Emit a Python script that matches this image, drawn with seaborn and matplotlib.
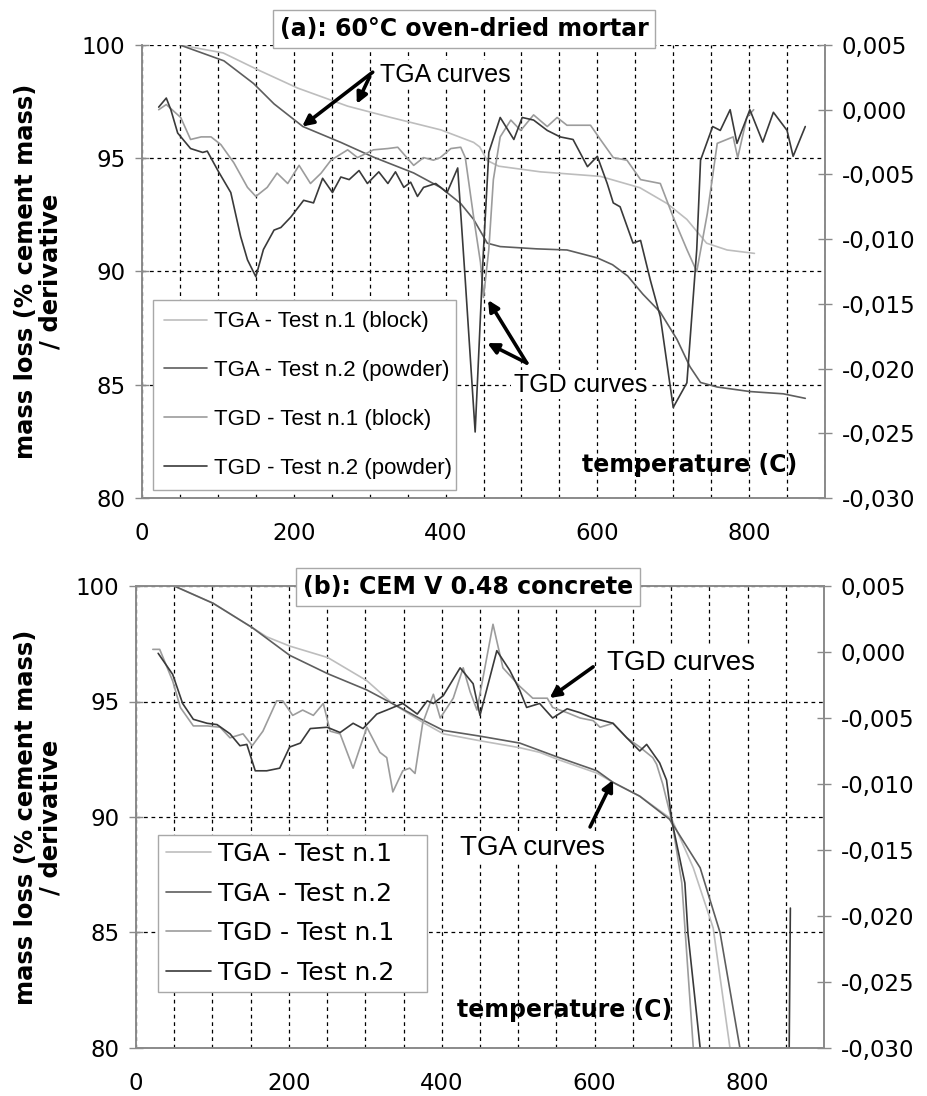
import matplotlib
matplotlib.use("Agg")
import matplotlib.pyplot as plt
import seaborn as sns
from matplotlib.ticker import FixedLocator, FuncFormatter, MultipleLocator

# ---------------- data ----------------
temp_ticks = [0, 200, 400, 600, 800]
left_ticks = [80, 85, 90, 95, 100]
right_ticks = [-0.030, -0.025, -0.020, -0.015, -0.010, -0.005, 0.000, 0.005]

a_title = "(a): 60°C oven-dried mortar"
b_title = "(b): CEM V 0.48 concrete"
a_labels = ["TGA - Test n.1 (block)", "TGA - Test n.2 (powder)",
            "TGD - Test n.1 (block)", "TGD - Test n.2 (powder)"]
b_labels = ["TGA - Test n.1", "TGA - Test n.2", "TGD - Test n.1", "TGD - Test n.2"]

# (a) mortar: TGA (left axis, % mass) and TGD (right axis, derivative)
a_tga1_t = [50, 107, 153, 205, 271, 328, 394, 437, 445, 455, 470, 525, 604, 656, 692,
            718, 744, 771, 807]
a_tga1_m = [100.0, 99.65, 98.9, 98.1, 97.3, 96.8, 96.25, 95.7, 95.5, 94.9, 94.65, 94.4,
            94.2, 93.7, 93.0, 92.3, 91.25, 90.95, 90.8]
a_tga2_t = [50, 108, 147, 174, 212, 262, 305, 358, 394, 420, 437, 455, 472, 520, 560,
            600, 620, 640, 660, 683, 705, 722, 736, 758, 801, 845, 874]
a_tga2_m = [100.0, 99.3, 98.3, 97.4, 96.4, 95.7, 95.05, 94.35, 93.7, 93.0, 92.3, 91.25,
            91.1, 91.0, 90.95, 90.6, 90.3, 89.8, 89.0, 88.2, 87.0, 85.8, 85.1, 84.9, 84.7,
            84.6, 84.4]
a_tgd1_t = [22, 32, 51, 64, 78, 91, 104, 121, 139, 150,
            165, 178, 192, 207, 222, 236, 249, 271, 284, 305,
            324, 337, 358, 371, 384, 393, 407, 420, 426, 437,
            446, 450, 457, 463, 472, 486, 499, 516, 534, 547,
            560, 591, 604, 621, 639, 657, 683, 700, 718, 731,
            745, 758, 779, 785, 797, 806]
a_tgd1_d = [0.0000, 0.0004, -0.0006, -0.0023, -0.0021, -0.0021, -0.0027, -0.0041, -0.0060, -0.0067,
            -0.0060, -0.0049, -0.0057, -0.0043, -0.0057, -0.0049, -0.0039, -0.0031, -0.0037, -0.0031,
            -0.0030, -0.0029, -0.0043, -0.0037, -0.0039, -0.0037, -0.0030, -0.0029, -0.0037, -0.0083,
            -0.0118, -0.0145, -0.0108, -0.0054, -0.0021, -0.0008, -0.0016, -0.0004, -0.0013, -0.0006,
            -0.0012, -0.0012, -0.0023, -0.0037, -0.0039, -0.0054, -0.0057, -0.0083, -0.0108, -0.0125,
            -0.0080, -0.0026, -0.0021, -0.0037, -0.0006, 0.0000]
a_tgd2_t = [22, 32, 38, 47, 64, 80, 86, 100, 117, 130,
            139, 150, 160, 174, 183, 196, 213, 226, 238, 251,
            262, 273, 286, 297, 312, 324, 334, 345, 354, 363,
            371, 387, 402, 416, 426, 439, 450, 457, 472, 490,
            501, 516, 534, 551, 568, 587, 600, 613, 621, 630,
            647, 657, 670, 683, 700, 718, 731, 736, 752, 762,
            775, 784, 801, 818, 832, 850, 858, 874]
a_tgd2_d = [0.0002, 0.0009, 0.0000, -0.0018, -0.0030, -0.0033, -0.0032, -0.0047, -0.0064, -0.0098,
            -0.0116, -0.0129, -0.0108, -0.0093, -0.0091, -0.0083, -0.0070, -0.0072, -0.0053, -0.0064,
            -0.0052, -0.0054, -0.0047, -0.0057, -0.0048, -0.0057, -0.0048, -0.0060, -0.0056, -0.0067,
            -0.0060, -0.0057, -0.0064, -0.0045, -0.0132, -0.0249, -0.0108, -0.0033, -0.0006, -0.0023,
            -0.0006, -0.0008, -0.0016, -0.0021, -0.0023, -0.0044, -0.0036, -0.0057, -0.0072, -0.0075,
            -0.0103, -0.0101, -0.0132, -0.0160, -0.0230, -0.0211, -0.0108, -0.0039, -0.0013, -0.0016,
            0.0000, -0.0026, 0.0000, -0.0025, -0.0002, -0.0016, -0.0036, -0.0013]

# (b) concrete
b_tga1_t = [50, 101, 152, 171, 201, 251, 302, 336, 375, 402, 450, 502, 528, 551, 603,
            624, 659, 701, 729, 755, 777, 785]
b_tga1_m = [100.0, 99.25, 98.2, 97.8, 97.4, 96.9, 95.9, 94.9, 94.1, 93.6, 93.3, 93.0,
            92.8, 92.5, 91.9, 91.5, 90.9, 89.9, 87.8, 85.2, 80.0, 78.0]
b_tga2_t = [50, 101, 152, 201, 251, 302, 336, 375, 402, 450, 502, 551, 603, 624, 659,
            698, 738, 764, 790, 800]
b_tga2_m = [100.0, 99.25, 98.2, 97.0, 96.2, 95.5, 94.9, 94.2, 93.75, 93.5, 93.2, 92.6,
            92.0, 91.5, 90.9, 89.9, 87.8, 85.0, 80.0, 78.0]
b_tgd1_t = [22, 31, 48, 58, 75, 93, 110, 123, 140, 152,
            166, 184, 192, 205, 218, 232, 245, 254, 267, 284,
            302, 319, 328, 336, 349, 358, 365, 375, 389, 398,
            415, 428, 437, 446, 467, 480, 502, 519, 538, 545,
            564, 581, 598, 607, 624, 642, 659, 676, 681, 689,
            701, 714, 729, 735]
b_tgd1_d = [0.0002, 0.0002, -0.0022, -0.0042, -0.0056, -0.0056, -0.0057, -0.0065, -0.0062, -0.0071,
            -0.0060, -0.0037, -0.0037, -0.0048, -0.0044, -0.0048, -0.0039, -0.0060, -0.0062, -0.0088,
            -0.0057, -0.0076, -0.0080, -0.0106, -0.0090, -0.0088, -0.0092, -0.0054, -0.0032, -0.0050,
            -0.0035, -0.0012, -0.0030, -0.0044, 0.0021, -0.0012, -0.0026, -0.0035, -0.0035, -0.0042,
            -0.0046, -0.0050, -0.0052, -0.0057, -0.0054, -0.0065, -0.0072, -0.0080, -0.0085, -0.0100,
            -0.0128, -0.0175, -0.0300, -0.0340]
b_tgd2_t = [29, 48, 61, 75, 93, 106, 123, 136, 145, 156,
            171, 188, 201, 215, 228, 250, 267, 284, 297, 315,
            328, 349, 368, 381, 389, 402, 424, 441, 450, 472,
            489, 502, 511, 528, 545, 564, 581, 598, 624, 642,
            659, 668, 685, 694, 701, 718, 722, 738, 745, 853,
            856]
b_tgd2_d = [-0.0001, -0.0017, -0.0039, -0.0051, -0.0054, -0.0055, -0.0062, -0.0071, -0.0070, -0.0090,
            -0.0090, -0.0088, -0.0072, -0.0069, -0.0058, -0.0057, -0.0061, -0.0054, -0.0058, -0.0047,
            -0.0044, -0.0039, -0.0047, -0.0037, -0.0039, -0.0033, -0.0012, -0.0024, -0.0048, 0.0001,
            -0.0014, -0.0029, -0.0042, -0.0039, -0.0050, -0.0043, -0.0046, -0.0050, -0.0054, -0.0065,
            -0.0075, -0.0070, -0.0084, -0.0097, -0.0128, -0.0175, -0.0213, -0.0300, -0.0400, -0.0400,
            -0.0194]

# ---------------- style ----------------
sns.set_style("white")
plt.rcParams["font.family"] = ["DejaVu Sans"]
plt.rcParams["axes.unicode_minus"] = False
plt.rcParams["text.color"] = "black"
plt.rcParams["xtick.labelcolor"] = "black"
plt.rcParams["ytick.labelcolor"] = "black"

C_TGA1, C_TGA2, C_TGD1, C_TGD2 = "#bdbdbd", "#5e5e5e", "#9c9c9c", "#3a3a3a"
SPINE = "#8a8a8a"
GRID = dict(color="black", linestyle=(0, (3, 3)), linewidth=0.9)
TICK_FS = 16.5

fig = plt.figure(figsize=(9.27, 10.96), dpi=100)
W, H = 927, 1096


def make_axes(px_left, px_right, px_top, px_bottom):
    return fig.add_axes([px_left / W, 1 - px_bottom / H,
                         (px_right - px_left) / W, (px_bottom - px_top) / H])


def panel(ax, tga1, tga2, tgd1, tgd2, top_spine):
    ax.set_xlim(0, 900)
    ax.set_ylim(80, 100)
    ax2 = ax.twinx()
    ax2.set_ylim(-0.030, 0.005)
    handles = []
    for (t, v), c, a in [(tga1, C_TGA1, ax), (tga2, C_TGA2, ax),
                         (tgd1, C_TGD1, ax2), (tgd2, C_TGD2, ax2)]:
        sns.lineplot(x=t, y=v, ax=a, color=c, linewidth=1.2,
                     estimator=None, sort=False, legend=False)
        handles.append(a.lines[-1])
    ax.set_xlim(0, 900)
    ax.set_ylim(80, 100)
    ax2.set_ylim(-0.030, 0.005)
    for a in (ax, ax2):
        a.set_xlabel("")
        a.set_ylabel("")
        for s in a.spines.values():
            s.set_color(SPINE)
            s.set_linewidth(1.2)
        a.spines["top"].set_visible(top_spine)
    ax.xaxis.set_major_locator(FixedLocator(temp_ticks))
    ax.xaxis.set_minor_locator(MultipleLocator(50))
    ax.yaxis.set_major_locator(FixedLocator(left_ticks))
    ax.set_axisbelow(True)
    ax.grid(True, which="both", axis="x", **GRID)
    ax.grid(True, which="major", axis="y", **GRID)
    ax.tick_params(axis="both", which="major", direction="inout", length=10, width=1,
                   color=SPINE, labelcolor="black", labelsize=TICK_FS, pad=7)
    ax.tick_params(axis="x", which="minor", length=0)
    ax.tick_params(axis="x", which="major", pad=12)
    ax2.yaxis.set_major_locator(FixedLocator(right_ticks))
    ax2.yaxis.set_major_formatter(
        FuncFormatter(lambda v, p: f"{v:.3f}".replace(".", ",")))
    ax2.tick_params(axis="y", direction="inout", length=10, width=1, color=SPINE,
                    labelcolor="black", labelsize=TICK_FS, pad=7)
    return ax2, handles


arrow = dict(arrowstyle="-|>", color="black", lw=2.6, mutation_scale=16,
             shrinkA=0, shrinkB=0)
txt_box = dict(boxstyle="square,pad=0.1", fc="white", ec="none")

# ---------------- panel (a) ----------------
ax_a = make_axes(142, 825, 45, 498)
ax2_a, h_a = panel(ax_a, (a_tga1_t, a_tga1_m), (a_tga2_t, a_tga2_m),
                   (a_tgd1_t, a_tgd1_d), (a_tgd2_t, a_tgd2_d), top_spine=False)
ax_a.axvline(900, **GRID)

leg = ax2_a.legend(h_a, a_labels, loc="lower left", bbox_to_anchor=(0.016, 0.018, 0.444, 0.43),
                   mode="expand", borderaxespad=0, fancybox=False, framealpha=1,
                   edgecolor="#a8a8a8", prop=dict(family="Liberation Sans", size=16),
                   labelspacing=1.25, borderpad=0.5, handlelength=1.95, handletextpad=0.3)
for t in leg.get_texts():
    t.set_color("black")

ax2_a.annotate("", xy=(211, 96.4), xytext=(304, 98.8), xycoords=ax_a.transData,
               arrowprops=arrow)
ax2_a.annotate("", xy=(283, 97.4), xytext=(300, 98.6), xycoords=ax_a.transData,
               arrowprops=arrow)
ax2_a.text(313, 98.68, "TGA curves", transform=ax_a.transData, ha="left", va="center",
           family="Liberation Sans", fontsize=18, bbox=txt_box, zorder=5)
ax2_a.annotate("", xy=(456, 88.74), xytext=(507, 85.96), xycoords=ax_a.transData,
               arrowprops=arrow)
ax2_a.annotate("", xy=(455, 86.84), xytext=(507, 85.96), xycoords=ax_a.transData,
               arrowprops=arrow)
ax2_a.text(490, 85.0, "TGD curves", transform=ax_a.transData, ha="left", va="center",
           family="Liberation Sans", fontsize=18, bbox=txt_box, zorder=5)
ax2_a.text(0.959, 0.073, "temperature (C)", transform=ax_a.transAxes, ha="right",
           va="center", fontsize=17, fontweight="bold")

# ---------------- panel (b) ----------------
ax_b = make_axes(136, 824, 586, 1048)
ax2_b, h_b = panel(ax_b, (b_tga1_t, b_tga1_m), (b_tga2_t, b_tga2_m),
                   (b_tgd1_t, b_tgd1_d), (b_tgd2_t, b_tgd2_d), top_spine=True)

leg = ax2_b.legend(h_b, b_labels, loc="lower left", bbox_to_anchor=(0.032, 0.121, 0.391, 0.35),
                   mode="expand", borderaxespad=0, fancybox=False, framealpha=1,
                   edgecolor="#a8a8a8", prop=dict(family="DejaVu Sans", size=18),
                   labelspacing=0.62, borderpad=0.3, handlelength=1.8, handletextpad=0.3)
for t in leg.get_texts():
    t.set_color("black")

ax2_b.annotate("", xy=(541, 95.15), xytext=(598, 96.5), xycoords=ax_b.transData,
               arrowprops=arrow)
ax2_b.text(616, 96.67, "TGD curves", transform=ax_b.transData, ha="left", va="center",
           family="Liberation Sans", fontsize=20, bbox=txt_box, zorder=5)
ax2_b.annotate("", xy=(624, 91.6), xytext=(594, 89.57), xycoords=ax_b.transData,
               arrowprops=arrow)
ax2_b.text(424, 88.66, "TGA curves", transform=ax_b.transData, ha="left", va="center",
           family="Liberation Sans", fontsize=20, bbox=txt_box, zorder=5)
ax2_b.text(0.78, 0.082, "temperature (C)", transform=ax_b.transAxes, ha="right",
           va="center", fontsize=17, fontweight="bold")

# ---------------- titles & y labels ----------------
title_box = dict(boxstyle="square,pad=0.3", fc="white", ec="#a8a8a8", lw=1)
fig.text(464 / W, 1 - 29 / H, a_title, ha="center", va="center", fontsize=17,
         fontweight="bold", bbox=title_box)
fig.text(468 / W, 1 - 587 / H, b_title, ha="center", va="center", fontsize=17,
         fontweight="bold", bbox=title_box)
for yc in (271, 817):
    fig.text(38 / W, 1 - yc / H, "mass loss (% cement mass)\n/ derivative", rotation=90,
             ha="center", va="center", fontsize=17.5, fontweight="bold",
             multialignment="center", linespacing=1.0)

fig.savefig("out.png", dpi=100)
